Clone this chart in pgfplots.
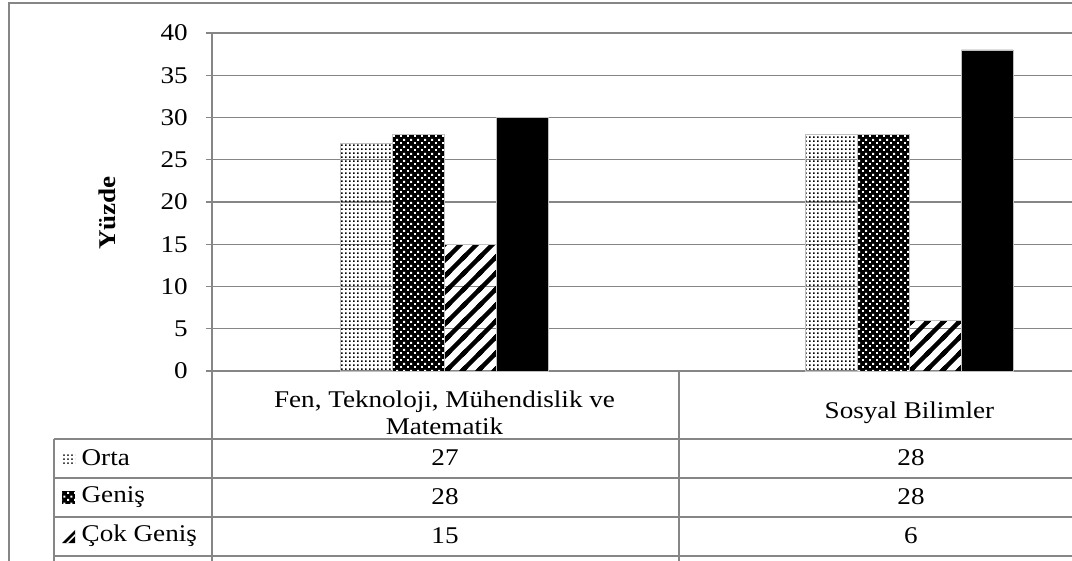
\documentclass[border=0pt]{standalone}
\usepackage{fontspec}
\setmainfont{Liberation Serif}[FakeStretch=1.13]
\usepackage{pgfplots}
\pgfplotsset{compat=1.18}
\usepackage{pgfplotstable}
\usetikzlibrary{patterns}

\definecolor{rulegray}{RGB}{134,134,134}
\newcommand{\chartfont}{\fontsize{18}{20.25}\selectfont}

% fine dot screen for "Orta"
\pgfdeclarepatternformonly{ortadots}{\pgfqpoint{0pt}{0pt}}{\pgfqpoint{3.2pt}{2.6pt}}{\pgfqpoint{3.2pt}{2.6pt}}{%
  \pgfpathrectangle{\pgfqpoint{0pt}{0pt}}{\pgfqpoint{1.5pt}{1.3pt}}\pgfusepath{fill}}
% staggered dots (drawn white over black) for "Genis"
\pgfdeclarepatternformonly{genisdots}{\pgfqpoint{0pt}{0pt}}{\pgfqpoint{5pt}{5pt}}{\pgfqpoint{5pt}{5pt}}{%
  \pgfpathrectangle{\pgfqpoint{0pt}{0pt}}{\pgfqpoint{1.5pt}{1.5pt}}%
  \pgfpathrectangle{\pgfqpoint{2.5pt}{2.5pt}}{\pgfqpoint{1.5pt}{1.5pt}}\pgfusepath{fill}}
% wide diagonal stripes for "Cok Genis" (overlapping cells avoid seams)
\pgfdeclarepatternformonly{cokstripes}{\pgfqpoint{-2pt}{-2pt}}{\pgfqpoint{14pt}{14pt}}{\pgfqpoint{12pt}{12pt}}{%
  \pgfsetlinewidth{3.2pt}\pgfsetbuttcap
  \pgfpathmoveto{\pgfqpoint{-2pt}{-2pt}}\pgfpathlineto{\pgfqpoint{14pt}{14pt}}%
  \pgfpathmoveto{\pgfqpoint{-2pt}{10pt}}\pgfpathlineto{\pgfqpoint{2pt}{14pt}}%
  \pgfpathmoveto{\pgfqpoint{10pt}{-2pt}}\pgfpathlineto{\pgfqpoint{14pt}{2pt}}%
  \pgfusepath{stroke}}

\pgfplotstableread{
x orta genis cokgenis diger
0 27   28    15       30
1 28   28    6        38
}\veri

\begin{document}
\begin{tikzpicture}[font=\chartfont]
\useasboundingbox (0,0) rectangle (804pt,-420.75pt);
\clip (0,0) rectangle (804pt,-420.75pt);
\begin{axis}[
  at={(159pt,-278.25pt)}, anchor=south west,
  scale only axis, width=645pt, height=253.5pt,
  xmin=-0.5, xmax=1.3495, ymin=0, ymax=40,
  separate axis lines,
  axis y line*=left, axis x line*=bottom,
  axis line style={draw=rulegray, line width=1pt, -},
  ytick={0,5,...,40},
  xtick={0,1},
  xticklabels={{Fen, Teknoloji, Mühendislik ve\\Matematik},{Sosyal Bilimler}},
  xticklabel style={align=center, anchor=center, yshift=-26.6pt, font=\chartfont},
  x tick style={draw=none},
  tick align=outside,
  major tick length=4.5pt,
  y tick style={draw=rulegray, line width=1pt},
  yticklabel style={anchor=east, inner sep=0pt, xshift=-13.5pt, font=\chartfont},
  /pgf/number format/assume math mode=true,
  ymajorgrids,
  grid style={draw=rulegray, line width=1pt},
  ylabel={\bfseries Yüzde},
  every axis y label/.style={at={(axis description cs:-0.1221,0.4675)}, rotate=90, anchor=center, font=\chartfont},
  ybar=0pt, bar width=0.1118,
  clip=false,
]
\addplot[draw=gray!50, line width=0.4pt, pattern=ortadots, pattern color=black] table[x=x,y=orta]{\veri};
\addplot[draw=gray!50, line width=0.4pt, fill=black, postaction={pattern=genisdots, pattern color=white}] table[x=x,y=genis]{\veri};
\addplot[draw=gray!50, line width=0.4pt, pattern=cokstripes, pattern color=black] table[x=x,y=cokgenis]{\veri};
\addplot[draw=gray!50, line width=0.4pt, fill=black] table[x=x,y=diger]{\veri};
\end{axis}

\begin{scope}[x=0.75pt, y=-0.75pt, line width=1pt, draw=rulegray]
  % outer chart frame
  \draw (9,561) -- (9,3) -- (1072,3);
  % data table rules
  \draw (212,33) -- (212,561);
  \draw (679,371) -- (679,561);
  \draw (54,439) -- (54,561);
  \foreach \yy in {439,478,517,556} \draw (54,\yy) -- (1072,\yy);
  % legend keys
  \fill[pattern=ortadots, pattern color=black!70] (62,452) rectangle (75,465);
  \fill[black] (62,491) rectangle (75,504);
  \fill[pattern=genisdots, pattern color=white] (62,491) rectangle (75,504);
  \fill[black] (62,543) -- (75,530) -- (75,543) -- cycle;
  \fill[white] (66,543) -- (75,534) -- (75,536) -- (68,543) -- cycle;
  % row labels
  \node[anchor=west, inner sep=0pt] at (81,458) {Orta};
  \node[anchor=west, inner sep=0pt] at (81,497) {Geniş};
  \node[anchor=west, inner sep=0pt] at (81,536) {Çok Geniş};
  % row values
  \node at (445,458) {27}; \node at (911,458) {28};
  \node at (445,497) {28}; \node at (911,497) {28};
  \node at (445,536) {15}; \node at (911,536) {6};
\end{scope}
\end{tikzpicture}
\end{document}
